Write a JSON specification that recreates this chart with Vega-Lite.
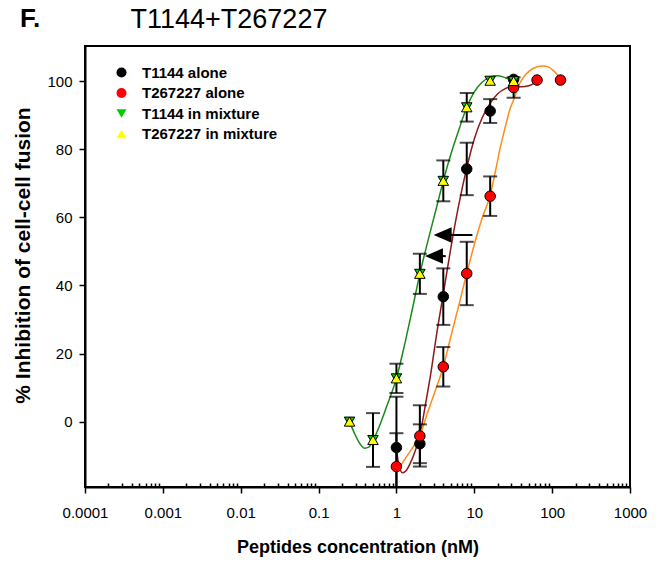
{
  "$schema": "https://vega.github.io/schema/vega-lite/v6.json",
  "width": 545,
  "height": 441,
  "autosize": {"type": "none"},
  "padding": {"left": 85, "top": 46, "right": 33, "bottom": 77},
  "background": "white",
  "config": {
    "view": {"stroke": "black", "strokeWidth": 2},
    "font": "Liberation Sans",
    "axis": {
      "domainColor": "black", "domainWidth": 2, "tickColor": "black", "tickWidth": 1.5,
      "labelColor": "black", "titleColor": "black", "labelFont": "Liberation Sans",
      "titleFont": "Liberation Sans", "grid": false, "labelFontSize": 15,
      "titleFontSize": 18, "titleFontWeight": "bold"
    }
  },
  "title": {
    "text": "F.",
    "anchor": "start", "frame": "group", "dx": -65, "offset": -27,
    "font": "Liberation Sans", "fontSize": 26, "fontWeight": "bold", "color": "black"
  },
  "datasets": {
    "pts": [
      {"series": "T1144 alone", "x": 1, "y": -7.6, "err": 14.9},
      {"series": "T1144 alone", "x": 2, "y": -6.5, "err": 5.7},
      {"series": "T1144 alone", "x": 4, "y": 36.7, "err": 8.3},
      {"series": "T1144 alone", "x": 8, "y": 74.2, "err": 7.7},
      {"series": "T1144 alone", "x": 16, "y": 91.2, "err": 3.5},
      {"series": "T1144 alone", "x": 32, "y": 100.5, "err": 0},
      {"series": "T267227 alone", "x": 1, "y": -13.2, "err": 9.8},
      {"series": "T267227 alone", "x": 2, "y": -4.2, "err": 9},
      {"series": "T267227 alone", "x": 4, "y": 16.1, "err": 5.8},
      {"series": "T267227 alone", "x": 8, "y": 43.5, "err": 9.3},
      {"series": "T267227 alone", "x": 16, "y": 66.2, "err": 5.8},
      {"series": "T267227 alone", "x": 32, "y": 98.1, "err": 3},
      {"series": "T267227 alone", "x": 64, "y": 100.3, "err": 0},
      {"series": "T267227 alone", "x": 128, "y": 100.3, "err": 0},
      {"series": "T1144 in mixture", "x": 0.25, "y": 0, "err": 0},
      {"series": "T1144 in mixture", "x": 0.5, "y": -5.4, "err": 7.9},
      {"series": "T1144 in mixture", "x": 1, "y": 12.7, "err": 4.3},
      {"series": "T1144 in mixture", "x": 2, "y": 43.4, "err": 5.9},
      {"series": "T1144 in mixture", "x": 4, "y": 70.7, "err": 6},
      {"series": "T1144 in mixture", "x": 8, "y": 92.3, "err": 4.2},
      {"series": "T1144 in mixture", "x": 16, "y": 100.1, "err": 0},
      {"series": "T1144 in mixture", "x": 32, "y": 100, "err": 0},
      {"series": "T267227 in mixture", "x": 0.25, "y": 0, "err": 0},
      {"series": "T267227 in mixture", "x": 0.5, "y": -5.4, "err": 7.9},
      {"series": "T267227 in mixture", "x": 1, "y": 12.7, "err": 4.3},
      {"series": "T267227 in mixture", "x": 2, "y": 43.4, "err": 5.9},
      {"series": "T267227 in mixture", "x": 4, "y": 70.7, "err": 6},
      {"series": "T267227 in mixture", "x": 8, "y": 92.3, "err": 4.2},
      {"series": "T267227 in mixture", "x": 16, "y": 100.1, "err": 0},
      {"series": "T267227 in mixture", "x": 32, "y": 100, "err": 0}
    ],
    "curves": [
      {"curve": "mix", "x": 0.25, "y": 0}, {"curve": "mix", "x": 0.29, "y": -3.5},
      {"curve": "mix", "x": 0.34, "y": -6.5}, {"curve": "mix", "x": 0.39, "y": -7.8},
      {"curve": "mix", "x": 0.44, "y": -7.5}, {"curve": "mix", "x": 0.5, "y": -5.6},
      {"curve": "mix", "x": 0.6, "y": -1.5}, {"curve": "mix", "x": 0.75, "y": 4.5},
      {"curve": "mix", "x": 1, "y": 12.7}, {"curve": "mix", "x": 1.3, "y": 23.5},
      {"curve": "mix", "x": 1.6, "y": 33}, {"curve": "mix", "x": 2, "y": 43.4},
      {"curve": "mix", "x": 2.5, "y": 52.5}, {"curve": "mix", "x": 3.2, "y": 62},
      {"curve": "mix", "x": 4, "y": 70.7}, {"curve": "mix", "x": 5, "y": 78.5},
      {"curve": "mix", "x": 6.3, "y": 85.5}, {"curve": "mix", "x": 8, "y": 92.3},
      {"curve": "mix", "x": 10, "y": 96.8}, {"curve": "mix", "x": 12.5, "y": 99.6},
      {"curve": "mix", "x": 16, "y": 101.2}, {"curve": "mix", "x": 20, "y": 101.6},
      {"curve": "mix", "x": 25, "y": 101}, {"curve": "mix", "x": 32, "y": 100.2},
      {"curve": "t1144", "x": 1, "y": -7.6}, {"curve": "t1144", "x": 1.05, "y": -11.5},
      {"curve": "t1144", "x": 1.12, "y": -14.2}, {"curve": "t1144", "x": 1.2, "y": -15},
      {"curve": "t1144", "x": 1.32, "y": -14.5}, {"curve": "t1144", "x": 1.5, "y": -12.3},
      {"curve": "t1144", "x": 1.75, "y": -8.5}, {"curve": "t1144", "x": 2, "y": -4},
      {"curve": "t1144", "x": 2.4, "y": 6}, {"curve": "t1144", "x": 2.8, "y": 15},
      {"curve": "t1144", "x": 3.3, "y": 26}, {"curve": "t1144", "x": 4, "y": 37.5},
      {"curve": "t1144", "x": 5, "y": 51}, {"curve": "t1144", "x": 6.3, "y": 63.5},
      {"curve": "t1144", "x": 8, "y": 74.5}, {"curve": "t1144", "x": 10, "y": 83},
      {"curve": "t1144", "x": 12.5, "y": 89}, {"curve": "t1144", "x": 16, "y": 93.5},
      {"curve": "t1144", "x": 20, "y": 96.3}, {"curve": "t1144", "x": 25, "y": 97.8},
      {"curve": "t1144", "x": 32, "y": 98.5}, {"curve": "t1144", "x": 40, "y": 98.3},
      {"curve": "t1144", "x": 50, "y": 98.6}, {"curve": "t1144", "x": 64, "y": 100},
      {"curve": "t267227", "x": 1, "y": -13.2}, {"curve": "t267227", "x": 1.15, "y": -12.5},
      {"curve": "t267227", "x": 1.35, "y": -10.3}, {"curve": "t267227", "x": 1.6, "y": -7.8},
      {"curve": "t267227", "x": 2, "y": -4.2}, {"curve": "t267227", "x": 2.5, "y": 2.5},
      {"curve": "t267227", "x": 3.2, "y": 9.5}, {"curve": "t267227", "x": 4, "y": 16.1},
      {"curve": "t267227", "x": 5, "y": 25}, {"curve": "t267227", "x": 6.3, "y": 34},
      {"curve": "t267227", "x": 8, "y": 43.5}, {"curve": "t267227", "x": 10, "y": 52},
      {"curve": "t267227", "x": 12.5, "y": 59.5}, {"curve": "t267227", "x": 16, "y": 66.5},
      {"curve": "t267227", "x": 18.5, "y": 73}, {"curve": "t267227", "x": 21.2, "y": 79.7},
      {"curve": "t267227", "x": 25, "y": 86.5}, {"curve": "t267227", "x": 28.5, "y": 91.5},
      {"curve": "t267227", "x": 32, "y": 94.5}, {"curve": "t267227", "x": 38.3, "y": 99.3},
      {"curve": "t267227", "x": 46, "y": 102}, {"curve": "t267227", "x": 56.7, "y": 103.7},
      {"curve": "t267227", "x": 76, "y": 104.4}, {"curve": "t267227", "x": 90, "y": 104.1},
      {"curve": "t267227", "x": 102, "y": 103.2}, {"curve": "t267227", "x": 115, "y": 102},
      {"curve": "t267227", "x": 128, "y": 100.3}
    ],
    "arrows": [
      {"x": 3.92, "x2": 9.46, "y": 54.8},
      {"x": 3.03, "x2": 4.3, "y": 48.6}
    ]
  },
  "encoding": {
    "y": {
      "field": "y", "type": "quantitative",
      "scale": {"domain": [-19.2, 110.3], "nice": false, "zero": false},
      "axis": {
        "title": "% Inhibition of cell-cell fusion",
        "values": [0, 20, 40, 60, 80, 100], "format": "d",
        "tickSize": 6, "labelPadding": 7, "titleFontSize": 21,
        "titleX": -62, "titleY": 209, "titleAlign": "center", "titleBaseline": "middle", "titleAngle": -90
      }
    }
  },
  "layer": [
    {
      "encoding": {
        "x": {
          "field": "x", "type": "quantitative",
          "scale": {"type": "log", "domain": [0.0001, 1000], "nice": false},
          "axis": {
            "title": "Peptides concentration (nM)",
            "values": [0.0001,0.0002,0.0003,0.0004,0.0005,0.0006,0.0007,0.0008,0.0009,0.001,0.002,0.003,0.004,0.005,0.006,0.007,0.008,0.009,0.01,0.02,0.03,0.04,0.05,0.06,0.07,0.08,0.09,0.1,0.2,0.3,0.4,0.5,0.6,0.7,0.8,0.9,1,2,3,4,5,6,7,8,9,10,20,30,40,50,60,70,80,90,100,200,300,400,500,600,700,800,900,1000],
            "format": "~g",
            "labelExpr": "abs(log(datum.value)/LN10 - round(log(datum.value)/LN10)) < 0.001 ? datum.label : ''",
            "tickSize": {"condition": {"test": "abs(log(datum.value)/LN10 - round(log(datum.value)/LN10)) < 0.001", "value": 6}, "value": -4},
            "labelOverlap": false, "labelFlush": false, "labelPadding": 12, "titlePadding": 18
          }
        }
      },
      "layer": [
        {
          "data": {"name": "curves"},
          "mark": {"type": "line", "strokeWidth": 1.5, "interpolate": "monotone", "clip": true},
          "encoding": {
            "stroke": {"field": "curve", "type": "nominal",
              "scale": {"domain": ["mix", "t1144", "t267227"], "range": ["#1b8a1b", "#8b1a1a", "#ff8c1a"]},
              "legend": null}
          }
        },
        {
          "data": {"name": "pts"},
          "transform": [{"filter": "datum.series != 'T1144 in mixture' && datum.err > 0"}],
          "mark": {"type": "errorbar", "ticks": true, "size": 14, "thickness": 2, "color": "black", "clip": true},
          "encoding": {
            "yError": {"field": "err"}
          }
        },
        {
          "data": {"name": "arrows"},
          "mark": {"type": "point", "shape": "M-1,0L1,-0.86L1,0.86Z", "size": 324, "filled": true, "color": "black", "opacity": 1}
        },
        {
          "data": {"name": "pts"},
          "mark": {"type": "point", "filled": true, "stroke": "black", "strokeWidth": 1, "size": 110, "opacity": 1, "clip": true},
          "encoding": {
            "fill": {"field": "series", "type": "nominal",
              "scale": {"domain": ["T1144 alone", "T267227 alone", "T1144 in mixture", "T267227 in mixture"], "range": ["black", "#ff0000", "#00cc00", "#ffff00"]},
              "legend": {"title": null, "orient": "none", "legendX": 29, "legendY": 19, "padding": 0,
                "labelFont": "Liberation Sans", "labelFontSize": 15, "labelFontWeight": "bold", "labelColor": "black",
                "symbolSize": 100, "symbolStrokeColor": "black", "symbolStrokeWidth": 1, "rowPadding": 4.5, "labelOffset": 13}},
            "shape": {"field": "series", "type": "nominal",
              "scale": {"domain": ["T1144 alone", "T267227 alone", "T1144 in mixture", "T267227 in mixture"], "range": ["circle", "circle", "triangle-down", "triangle-up"]},
              "legend": {"title": null, "orient": "none", "legendX": 29, "legendY": 19, "padding": 0,
                "labelFont": "Liberation Sans", "labelFontSize": 15, "labelFontWeight": "bold", "labelColor": "black",
                "symbolSize": 100, "symbolStrokeColor": "black", "symbolStrokeWidth": 1, "rowPadding": 4.5, "labelOffset": 13}}
          }
        }
      ]
    },
    {
      "data": {"name": "arrows"},
      "mark": {"type": "rule", "color": "black", "strokeWidth": 2},
      "encoding": {
        "x": {
          "field": "x", "type": "quantitative",
          "scale": {"type": "log", "domain": [0.0001, 1000], "nice": false},
          "axis": {
            "orient": "top", "title": "T1144+T267227", "labels": false, "ticks": false, "domain": false,
            "titleFont": "Liberation Sans", "titleFontSize": 27, "titleFontWeight": "normal", "titleColor": "black",
            "titleX": 45, "titleY": -19, "titleAlign": "left", "titleBaseline": "alphabetic", "titleAnchor": "start"
          }
        },
        "x2": {"field": "x2"}
      }
    }
  ],
  "resolve": {"axis": {"x": "independent"}}
}
